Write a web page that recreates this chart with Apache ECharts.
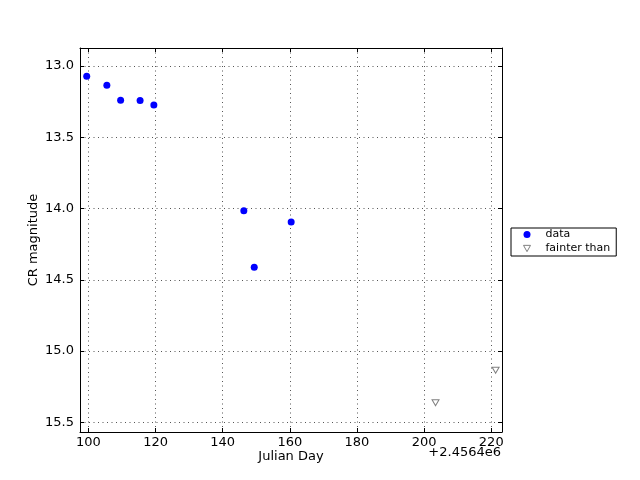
<!DOCTYPE html>
<html><head><meta charset="utf-8">
<script src="https://cdn.jsdelivr.net/npm/echarts@6/dist/echarts.min.js"></script>
<style>html,body{margin:0;padding:0;background:#fff}#c{width:640px;height:480px}</style>
</head><body><div id="c"></div>
<script>
const dataX = [99.5, 105.5, 109.6, 115.4, 119.5, 146.3, 149.4, 160.4];
const dataY = [13.072, 13.135, 13.24, 13.243, 13.274, 14.015, 14.413, 14.095];
const faintX = [203.4, 221.3];
const faintY = [15.363, 15.135];
const xTicks = [100, 120, 140, 160, 180, 200, 220];
const yTicks = [13.0, 13.5, 14.0, 14.5, 15.0, 15.5];
const xOffsetLabel = '+2.4564e6';

const chart = echarts.init(document.getElementById('c'));
const F = 'DejaVu Sans';
const xMin = 97.5, xMax = 223.2, yMin = 12.874, yMax = 15.568;
const gridLine = {show: true, lineStyle: {color: '#555', type: [1, 3.5], width: 1}};
function tick(vals) {
  return {show: true, inside: true, length: 4, lineStyle: {color: '#000'}, customValues: vals};
}
const line = {show: true, onZero: false, lineStyle: {color: '#000', width: 1}};
const xAxisMain = {
  type: 'value', min: xMin, max: xMax, position: 'bottom',
  axisLine: line, axisTick: tick(xTicks),
  axisLabel: {customValues: xTicks, color: '#000', fontFamily: F, fontSize: 13, margin: 4, formatter: v => String(Math.round(v))},
  splitLine: gridLine,
  name: 'Julian Day', nameLocation: 'middle', nameGap: 18, nameMoveOverlap: false,
  nameTextStyle: {color: '#000', fontFamily: F, fontSize: 13}
};
const xAxisTop = {
  type: 'value', min: xMin, max: xMax, position: 'top',
  axisLine: line, axisTick: tick(xTicks),
  axisLabel: {show: false, customValues: xTicks}, splitLine: {show: false}
};
const yAxisMain = {
  type: 'value', min: yMin, max: yMax, inverse: true, position: 'left',
  axisLine: line, axisTick: tick(yTicks),
  axisLabel: {customValues: yTicks, color: '#000', fontFamily: F, fontSize: 13, margin: 6, formatter: v => v.toFixed(1)},
  splitLine: gridLine,
  name: 'CR magnitude', nameLocation: 'middle', nameGap: 40, nameRotate: 90, nameMoveOverlap: false,
  nameTextStyle: {color: '#000', fontFamily: F, fontSize: 13}
};
const yAxisRight = {
  type: 'value', min: yMin, max: yMax, inverse: true, position: 'right',
  axisLine: line, axisTick: tick(yTicks),
  axisLabel: {show: false, customValues: yTicks}, splitLine: {show: false}
};

const triDown = 'path://M0,0 L10,0 L5,9 Z';
chart.setOption({
  animation: false,
  backgroundColor: '#fff',
  grid: {left: 80, top: 48, width: 422, height: 384, containLabel: false},
  xAxis: [xAxisMain, xAxisTop],
  yAxis: [yAxisMain, yAxisRight],
  legend: {
    orient: 'vertical', left: 511, top: 228,
    padding: [0, 6, 1, 12], itemGap: 1, itemWidth: 7, itemHeight: 7,
    borderColor: '#000', borderWidth: 1, borderRadius: 0,
    textStyle: {fontFamily: F, fontSize: 11, color: '#000', padding: [0, 0, 0, 10], lineHeight: 13},
    data: [
      {name: 'data', icon: 'circle', itemStyle: {color: '#0000ff'}},
      {name: 'fainter than', icon: triDown, itemStyle: {color: '#ffffff', borderColor: '#808080', borderWidth: 1}}
    ]
  },
  graphic: [{
    type: 'text', right: 139, top: 446,
    style: {text: xOffsetLabel, fontFamily: F, fontSize: 13, fill: '#000'}
  }],
  series: [
    {
      name: 'data', type: 'scatter', xAxisIndex: 0, yAxisIndex: 0,
      symbol: 'circle', symbolSize: 7,
      itemStyle: {color: '#0000ff', opacity: 1},
      data: dataX.map((x, i) => [x, dataY[i]])
    },
    {
      name: 'fainter than', type: 'scatter', xAxisIndex: 0, yAxisIndex: 0,
      symbol: triDown, symbolSize: [7, 6],
      itemStyle: {color: '#ffffff', borderColor: '#808080', borderWidth: 1, opacity: 1},
      data: faintX.map((x, i) => [x, faintY[i]])
    }
  ]
});
</script></body></html>
